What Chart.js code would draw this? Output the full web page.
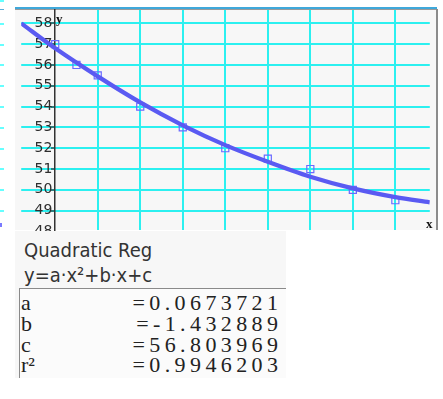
<!DOCTYPE html>
<html>
<head>
<meta charset="utf-8">
<script src="https://cdn.jsdelivr.net/npm/chart.js@4.4.0/dist/chart.umd.min.js"></script>
<style>
  html, body { margin: 0; padding: 0; background: #fff; }
  body { width: 443px; height: 399px; position: relative; overflow: hidden; }
  .abs { position: absolute; }
  #strip { left: 0; top: 0; width: 4px; height: 231px;
    background-image: repeating-linear-gradient(to bottom, transparent 0px, transparent 18.8px, #6ff 18.8px, #6ff 20.8px);
    background-position: 0 4px; }
  #stripBar { left: 0; top: 9px; width: 4px; height: 1px; background: #5ab0dc; }
  #stripDot { left: 0; top: 223px; width: 2px; height: 4px; background: #7a7aff; }
  #bar { left: 15px; top: 7px; width: 422px; height: 2px; background: #3fa8da; }
  #barLine { left: 15px; top: 9px; width: 422px; height: 1px; background: #9a9a9a; }
  #plot { left: 15px; top: 10px; width: 421px; height: 220px; background: #f7f7f7; }
  #edge { left: 436px; top: 9px; width: 1.5px; height: 221px; background: #8c8c8c; }
  #wrap { left: 15px; top: 0px; width: 421px; height: 250px; }
  .axlab { font: bold 13px "Liberation Serif", serif; color: #111; line-height: 13px; }
  #ylab { left: 56px; top: 12px; }
  #xlab { left: 426px; top: 217px; }
  #panel { left: 15px; top: 231px; width: 271px; height: 147px; background: #f7f7f7; overflow: hidden; z-index: 2; }
  .hd { position: absolute; left: 9px; font-family: "DejaVu Sans Condensed", "DejaVu Sans", sans-serif; font-stretch: condensed;
    font-size: 20px; line-height: 20px; color: #333; white-space: nowrap; }
  #box { left: 4px; top: 57px; width: 300px; height: 100px; background: #fbfbfb;
    border-left: 1px solid #8a8a8a; border-top: 1px solid #8a8a8a; }
  .row { position: absolute; left: 0; height: 20.7px; width: 258px;
    font-family: "Liberation Serif", serif; font-size: 22px; line-height: 20.7px; color: #222; white-space: nowrap; }
  .row .k { position: absolute; left: 1px; }
  .row .v { position: absolute; right: -4.4px; letter-spacing: 4.4px; }
</style>
</head>
<body>
<div id="strip" class="abs"></div>
<div id="stripBar" class="abs"></div>
<div id="stripDot" class="abs"></div>
<div id="bar" class="abs"></div>
<div id="barLine" class="abs"></div>
<div id="plot" class="abs"></div>
<div id="edge" class="abs"></div>
<div id="wrap" class="abs"><canvas id="graph"></canvas></div>
<div id="ylab" class="abs axlab">y</div>
<div id="xlab" class="abs axlab">x</div>
<div id="panel" class="abs">
  <div class="hd" style="top:8.8px">Quadratic Reg</div>
  <div class="hd" style="top:33.8px">y=a·x²+b·x+c</div>
  <div id="box" class="abs"></div>
</div>
<script>
// data points (list1, list2)
const xData = [0, 0.5, 1, 2, 3, 4, 5, 6, 7, 8];
const yData = [57, 56, 55.5, 54, 53, 52, 51.5, 51, 50, 49.5];

// regression curve at each grid column
const curveX = [-0.8, 0, 1, 2, 3, 4, 5, 6, 7, 8, 8.81];
const curveY = [58.0, 56.8, 55.45, 54.2, 53.1, 52.15, 51.35, 50.63, 50.07, 49.65, 49.4];

const yTicks = [48, 49, 50, 51, 52, 53, 54, 55, 56, 57, 58];
const xGrid = [1, 2, 3, 4, 5, 6, 7, 8];

// result table
const resultNames = ['a', 'b', 'c', 'r²'];
const resultValues = ['=0.0673721', '=-1.432889', '=56.803969', '=0.9946203'];

const cyan = '#2cf0f0';
const hidden = 'rgba(0,0,0,0)';

const box = document.getElementById('box');
resultNames.forEach((name, i) => {
  const row = document.createElement('div');
  row.className = 'row';
  row.style.top = (4.2 + i * 20.7) + 'px';
  row.innerHTML = '<span class="k">' + name + '</span><span class="v">' + resultValues[i] + '</span>';
  box.appendChild(row);
});

new Chart(document.getElementById('graph'), {
  type: 'scatter',
  data: {
    datasets: [
      {
        label: 'Quadratic Reg',
        data: curveX.map((x, i) => ({ x: x, y: curveY[i] })),
        showLine: true,
        borderColor: '#5a5af2',
        borderWidth: 4.2,
        pointRadius: 0,
        cubicInterpolationMode: 'monotone'
      },
      {
        label: 'list',
        data: xData.map((x, i) => ({ x: x, y: yData[i] })),
        pointStyle: 'rect',
        pointRadius: 5,
        borderColor: '#6a6aff',
        borderWidth: 1.2,
        backgroundColor: hidden
      }
    ]
  },
  options: {
    responsive: true,
    maintainAspectRatio: false,
    animation: false,
    layout: { padding: { top: 10, bottom: 20, left: 0, right: 0 } },
    plugins: { legend: { display: false }, tooltip: { enabled: false } },
    scales: {
      x: {
        type: 'linear',
        min: -0.8,
        max: 8.81,
        afterBuildTicks: (s) => { s.ticks = xGrid.map((v) => ({ value: v })); },
        ticks: { display: false },
        grid: { color: cyan, lineWidth: 2, drawTicks: false },
        border: { display: false }
      },
      y: {
        type: 'linear',
        position: { x: 0 },
        min: 48.07,
        max: 58.64,
        afterBuildTicks: (s) => { s.ticks = yTicks.map((v) => ({ value: v })); },
        ticks: {
          callback: (v) => v + '\u2009',
          font: { family: 'DejaVu Sans', size: 14 },
          color: '#2e2e2e',
          padding: 0
        },
        grid: {
          color: (ctx) => (ctx.tick && ctx.tick.value === 48 ? hidden : cyan),
          lineWidth: 2,
          tickLength: 3,
          tickWidth: 1.2,
          tickColor: (ctx) => (ctx.tick && ctx.tick.value === 48 ? hidden : '#333')
        },
        border: { color: '#333', width: 1.5 }
      }
    }
  }
});
</script>
</body>
</html>
